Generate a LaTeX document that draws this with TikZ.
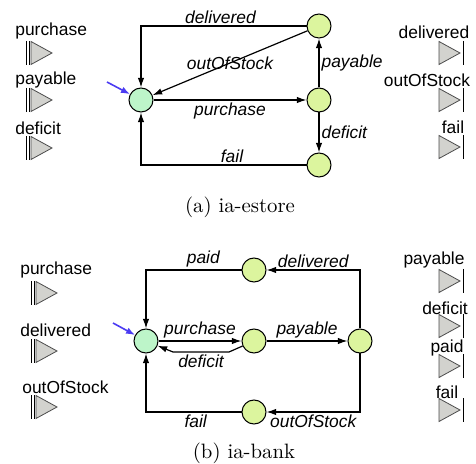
\documentclass[tikz,border=0pt]{standalone}
\usepackage{fontspec}
\newfontfamily\helv{Liberation Sans}
\usetikzlibrary{arrows.meta}

\definecolor{initgreen}{HTML}{BDF5C9}
\definecolor{stategreen}{HTML}{DCF59E}
\definecolor{portgray}{HTML}{D2D2CE}
\definecolor{initblue}{HTML}{4B3BF2}

\tikzset{
  state/.style={circle,draw,line width=0.5pt,fill=stategreen,minimum size=12pt,inner sep=0pt},
  initstate/.style={state,fill=initgreen},
  trans/.style={line width=0.6pt,-{Latex[length=4.8pt,width=3.2pt]}},
  initarrow/.style={line width=0.8pt,initblue,-{Latex[length=4.5pt,width=3.4pt]}},
  lbl/.style={font=\helv\itshape\fontsize{8.7}{10}\selectfont,inner sep=1pt},
  portlbl/.style={font=\helv\fontsize{8.7}{10}\selectfont,inner sep=0pt},
  caption/.style={font=\fontsize{10.4}{12}\selectfont},
  inport/.pic={
    \draw[line width=0.5pt] (-14,-12)--(-14,12) (-11,-12)--(-11,12);
    \draw[line width=0.4pt,draw=black!70,fill=portgray] (-9,-11.5)--(12,0)--(-9,11.5)--cycle;
  },
  outport/.pic={
    \draw[line width=0.4pt,draw=black!70,fill=portgray] (-11,-11.5)--(10,0)--(-11,11.5)--cycle;
    \draw[line width=0.5pt] (13,-12)--(13,12);
  }
}

\begin{document}
\begin{tikzpicture}[x=0.5pt,y=-0.5pt]
\useasboundingbox (0,0) rectangle (476,464);
% (a) ia-estore
\node[portlbl,anchor=west] (aipur) at (15,31) {purchase};
\node[portlbl,anchor=west] (aipay) at (15,80) {payable};
\node[portlbl,anchor=west] (aidef) at (15,128) {deficit};
\pic at (40,53) {inport};
\pic at (40,100) {inport};
\pic at (40,148) {inport};
\node[portlbl] (aodel) at (434,32) {delivered};
\node[portlbl] (aoout) at (427,80) {outOfStock};
\node[portlbl] (aofail) at (453,127) {fail};
\pic at (450,53) {outport};
\pic at (450,100) {outport};
\pic at (450,147) {outport};
\node[initstate] (a0) at (141,100) {};
\node[state] (a1) at (319,26) {};
\node[state] (a2) at (319,100) {};
\node[state] (a3) at (319,165) {};
\coordinate (aini) at (107,82);
\draw[initarrow] (aini) -- (a0);
\draw[trans] (a1) -| node[lbl,pos=0.26,above] (adel) {delivered} (a0);
\draw[trans] (a1) -- node[lbl] (aout) {outOfStock} (a0);
\draw[trans] (a0) -- node[lbl,below] (apur) {purchase} (a2);
\draw[trans] (a2) -- node[lbl,right] (apay) {payable} (a1);
\draw[trans] (a2) -- node[lbl,right] (adef) {deficit} (a3);
\draw[trans] (a3) -| node[lbl,pos=0.225,above] (afail) {fail} (a0);
\node[caption] (acap) at (240,207) {(a) ia-estore};
% (b) ia-bank
\node[portlbl,anchor=west] (bipur) at (20,270) {purchase};
\node[portlbl,anchor=west] (bidel) at (20,330) {delivered};
\node[portlbl,anchor=west] (biout) at (22,387) {outOfStock};
\pic at (45,293) {inport};
\pic at (45,351) {inport};
\pic at (45,407) {inport};
\node[portlbl] (bopay) at (434,260) {payable};
\node[portlbl] (bodef) at (445,308) {deficit};
\node[portlbl] (bopaid) at (447,348) {paid};
\node[portlbl] (bofail) at (447,392) {fail};
\pic at (450,281) {outport};
\pic at (450,326) {outport};
\pic at (450,366) {outport};
\pic at (450,410) {outport};
\node[initstate] (b0) at (146,341) {};
\node[state] (b1) at (254,341) {};
\node[state] (b2) at (360,341) {};
\node[state] (b3) at (254,270) {};
\node[state] (b4) at (254,412) {};
\coordinate (bini) at (113,323);
\coordinate (bd1) at (229,352);
\coordinate (bd2) at (173,352);
\draw[initarrow] (bini) -- (b0);
\draw[trans] (b0) -- node[lbl,above] (bpur) {purchase} (b1);
\draw[trans] (b1) -- node[lbl,above] (bpay) {payable} (b2);
\draw[trans] (b1) -- (bd1) -- node[lbl,below] (bdef) {deficit} (bd2) -- (b0);
\draw[trans] (b3) -| node[lbl,pos=0.2,above] (bpaid) {paid} (b0);
\draw[trans] (b2) |- node[lbl,pos=0.75,above] (bdel) {delivered} (b3);
\draw[trans] (b2) |- node[lbl,pos=0.75,below] (bout) {outOfStock} (b4);
\draw[trans] (b4) -| node[lbl,pos=0.24,below] (bfail) {fail} (b0);
\node[caption] (bcap) at (244,453) {(b) ia-bank};
\end{tikzpicture}
\end{document}
